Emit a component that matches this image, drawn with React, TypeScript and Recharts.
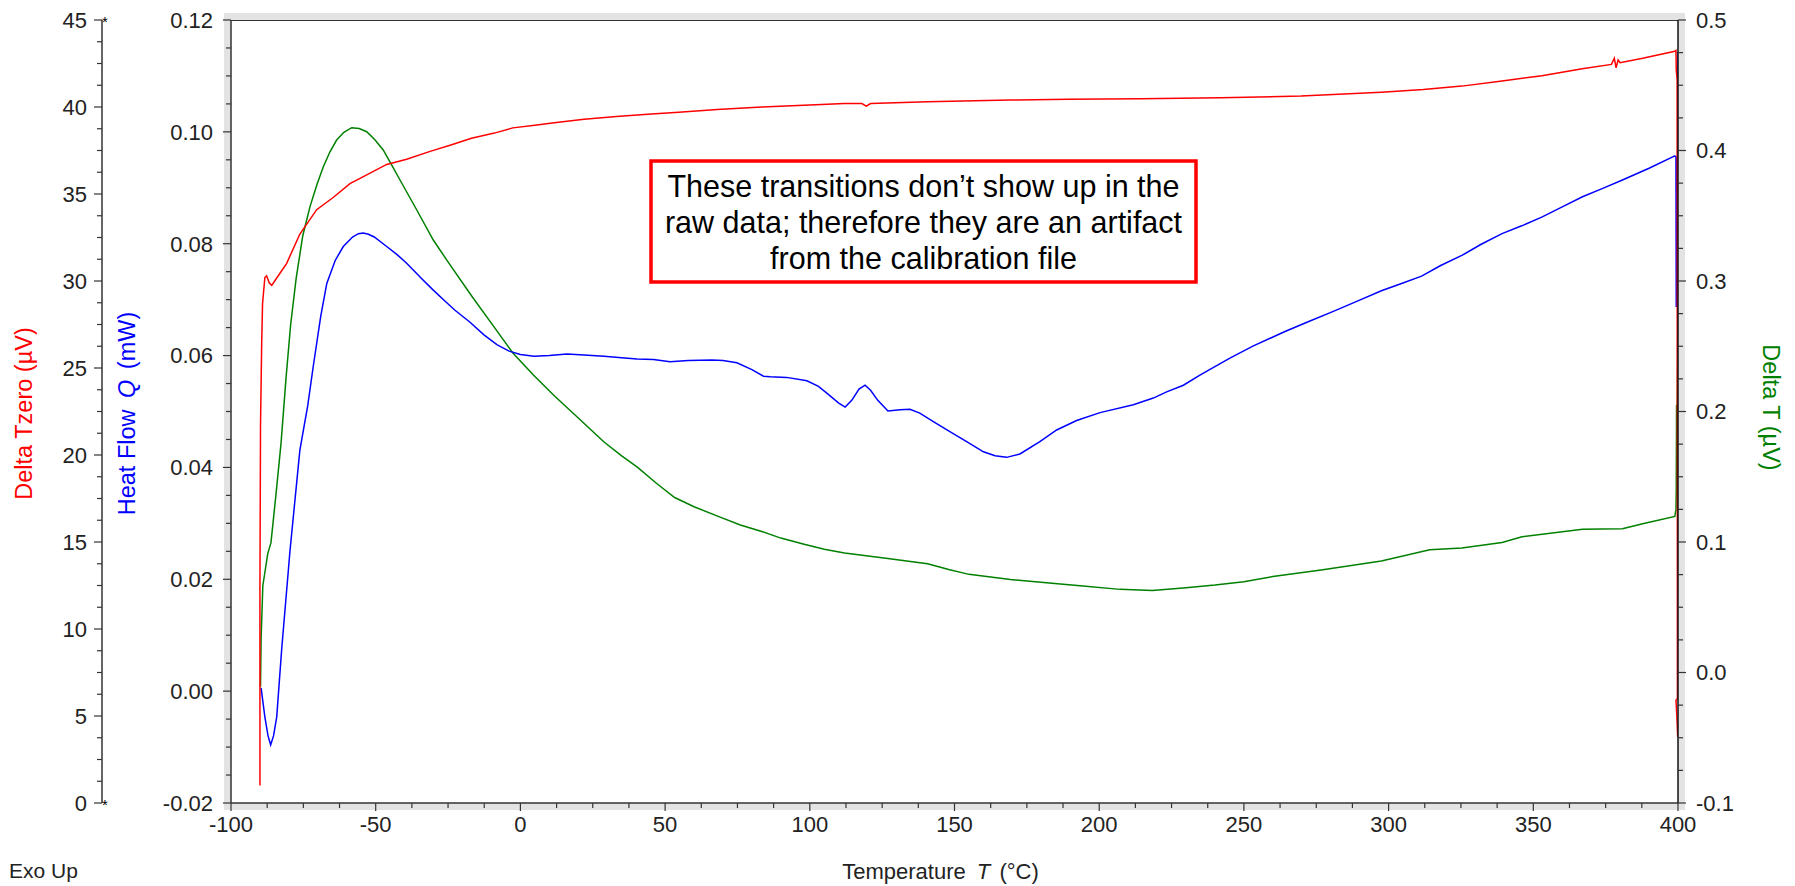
import React from "react";
import { LineChart, Line, XAxis, YAxis } from "recharts";

const FONT = '"Liberation Sans", Arial, Helvetica, sans-serif';
const AXIS = "#333333";
const TEXT = "#222222";

// layout
const WIDTH = 1795;
const HEIGHT = 886;
const MARGIN = { top: 20, right: 37, bottom: 0, left: 0 };
const TZERO_AXIS_W = 102;
const HF_AXIS_W = 129;
const DT_AXIS_W = 80;
const X_AXIS_H = 83;

const PLOT_L = MARGIN.left + TZERO_AXIS_W + HF_AXIS_W;
const PLOT_R = WIDTH - MARGIN.right - DT_AXIS_W;
const PLOT_T = MARGIN.top;
const PLOT_B = HEIGHT - MARGIN.bottom - X_AXIS_H;

// [temperature °C, heat flow mW]  (blue, left axis)
const heatFlow: [number, number][] = [
  [-89.6, 0.0006], [-88.3, -0.0046], [-87.2, -0.008], [-86.3, -0.0096], [-85.3, -0.008],
  [-84.2, -0.0046], [-82.5, 0.0074], [-79.6, 0.0252], [-76.2, 0.0431], [-73.5, 0.051],
  [-71.6, 0.058], [-69.0, 0.067], [-66.9, 0.0729], [-64.0, 0.077], [-61.2, 0.0795],
  [-58.0, 0.0812], [-56.0, 0.0818], [-54.3, 0.0819], [-52.5, 0.0817], [-50.5, 0.0812],
  [-46.2, 0.0795], [-42.5, 0.078], [-39.3, 0.0765],
  [-34.0, 0.0737], [-30.1, 0.0717], [-26.0, 0.0697], [-22.6, 0.0681], [-17.5, 0.066],
  [-12.6, 0.0637], [-8.0, 0.0619], [-3.9, 0.0608], [0, 0.0602], [4.7, 0.0599],
  [10, 0.06], [16.1, 0.0603], [22, 0.0601], [28.9, 0.0599], [35, 0.0596],
  [40.3, 0.0594], [46, 0.0593], [51.7, 0.0589], [58, 0.0591], [66.2, 0.0592],
  [70, 0.0591], [74.8, 0.0587], [80, 0.0575], [84, 0.0563], [86.3, 0.0562],
  [92, 0.0561], [99, 0.0555], [103, 0.0545], [106.3, 0.0531], [110, 0.0515],
  [112.2, 0.0508], [114.5, 0.052], [117, 0.054], [119.1, 0.0547], [121, 0.0538],
  [123.5, 0.052], [127, 0.0501], [131.2, 0.0503], [134.6, 0.0504], [138, 0.0497],
  [142.7, 0.0482], [148.4, 0.0464], [154.2, 0.0446], [160, 0.0428], [164, 0.0421],
  [168, 0.0418], [172.6, 0.0424], [179.5, 0.0446], [185.3, 0.0467], [192.2, 0.0484],
  [200.3, 0.0498], [211.8, 0.0512], [218.7, 0.0524], [223.3, 0.0535], [229.1, 0.0547],
  [234.8, 0.0565], [245, 0.0595], [253.1, 0.0617], [264.2, 0.0643], [272, 0.066],
  [280.9, 0.0679], [289, 0.0697], [297.5, 0.0716], [304, 0.0728], [311.4, 0.0742],
  [318, 0.0761], [325.3, 0.0779], [332, 0.0799], [339.2, 0.0818], [346, 0.0832],
  [353.1, 0.0848], [360, 0.0866], [367, 0.0884], [374, 0.0899], [380.8, 0.0914],
  [390, 0.0935], [398.9, 0.0957], [399.3, 0.0955], [399.4, 0.0687], [399.6, 0.094],
  [400, 0.0965], [400, 0.1143],
];

// [temperature °C, Delta Tzero µV]  (red, far-left axis)
const deltaTzero: [number, number][] = [
  [-90.0, 1.0], [-90.0, 12.3], [-89.8, 21.7], [-89.4, 26.4], [-89.1, 28.7],
  [-88.3, 30.2], [-87.7, 30.3], [-86.8, 29.9], [-85.9, 29.75], [-84.5, 30.1],
  [-80.8, 31.0], [-76.2, 32.7], [-70.4, 34.1], [-64.7, 34.8], [-58.9, 35.6],
  [-53.1, 36.1], [-46.2, 36.7], [-39.3, 37.0], [-31.2, 37.45], [-24.3, 37.8],
  [-16.9, 38.2], [-9, 38.5], [-2.6, 38.8], [5, 38.95], [11.7, 39.1],
  [22, 39.3], [33.2, 39.45], [44, 39.58], [54.7, 39.7], [68, 39.85],
  [83.4, 40.0], [98, 40.1], [112, 40.2], [118, 40.2], [119.5, 40.05],
  [121, 40.2], [140.7, 40.3], [169.3, 40.4], [189.4, 40.45], [214.2, 40.47],
  [242, 40.53], [269.7, 40.63], [297.5, 40.85], [312, 41.0], [325.3, 41.2],
  [339.2, 41.5], [353, 41.8], [366.9, 42.2], [377, 42.45], [378, 42.8],
  [378.6, 42.25], [379.3, 42.7], [380, 42.55], [387.8, 42.8], [398.9, 43.2],
  [399.3, 43.25], [399.4, 42.1], [399.7, 41.6], [399.8, 6.0], [399.3, 5.9],
  [399.6, 5.0], [399.9, 3.8],
];

// [temperature °C, Delta T µV]  (green, right axis)
const deltaT: [number, number][] = [
  [-89.8, -0.011], [-89.6, 0.026], [-89.0, 0.0665], [-87.3, 0.0911], [-86.2, 0.0993],
  [-84.4, 0.1376], [-82.7, 0.176], [-81.0, 0.2252], [-79.4, 0.2663], [-77.5, 0.3018],
  [-75.2, 0.3347], [-72.7, 0.357], [-70.3, 0.374], [-68.1, 0.3876], [-65.8, 0.399],
  [-63.5, 0.408], [-61, 0.414], [-58.3, 0.4175], [-55.7, 0.4168],
  [-53.1, 0.4144], [-50.2, 0.408], [-47.4, 0.4004], [-44.5, 0.389], [-41.6, 0.3774],
  [-35.8, 0.3544], [-30.1, 0.3314],
  [-24.3, 0.3123], [-16.9, 0.2887], [-9.5, 0.266], [-2.6, 0.2449], [4.5, 0.228],
  [11.7, 0.2121], [20, 0.195], [28.9, 0.1766], [35, 0.166], [40.4, 0.1574],
  [47, 0.145], [53.3, 0.1341], [60, 0.127], [69, 0.1191], [76, 0.113],
  [83.4, 0.1081], [90, 0.103], [97.7, 0.0985], [105, 0.0945], [112, 0.0916],
  [126.3, 0.0876], [140.7, 0.0834], [148, 0.079], [155, 0.0752], [169.3, 0.0712],
  [183.7, 0.0684], [193.4, 0.0665], [207.2, 0.0637], [218.4, 0.0628], [230, 0.065],
  [240, 0.067], [250, 0.0695], [260, 0.0735], [276.7, 0.0785], [297.5, 0.0855],
  [314.2, 0.094], [325.3, 0.0954], [339.2, 0.0997], [346.1, 0.104], [367, 0.1097],
  [380.8, 0.1102], [387.8, 0.114], [398.9, 0.1196], [399.3, 0.125], [399.4, 0.14],
  [399.5, 0.205], [399.6, 0.14], [399.9, 0.255],
];

// major tick values
const tempTicks = [-100, -50, 0, 50, 100, 150, 200, 250, 300, 350, 400];
const heatFlowTicks = [-0.02, 0, 0.02, 0.04, 0.06, 0.08, 0.1, 0.12];
const tzeroTicks = [0, 5, 10, 15, 20, 25, 30, 35, 40, 45];
const deltaTTicks = [-0.1, 0, 0.1, 0.2, 0.3, 0.4, 0.5];

const note = [
  "These transitions don\u2019t show up in the",
  "raw data; therefore they are an artifact",
  "from the calibration file",
];

// add 3 minor ticks between each pair of majors
function withMinors(majors: number[]) {
  const out: number[] = [];
  for (let i = 0; i < majors.length - 1; i++) {
    const step = (majors[i + 1] - majors[i]) / 4;
    for (let k = 0; k < 4; k++) out.push(Math.round((majors[i] + k * step) * 1e6) / 1e6);
  }
  out.push(majors[majors.length - 1]);
  return out;
}

const toRows = (pts: [number, number][]) => pts.map(([t, v]) => ({ t, v }));

const isMajor = (majors: number[], v: number) => majors.some((m) => Math.abs(m - v) < 1e-9);

const labelStyle = { fontFamily: FONT, fontSize: 22, fill: TEXT };

function makeTick(
  side: "left" | "right" | "bottom",
  majors: number[],
  fmt: (v: number) => string,
  gap: number,
  stars = false
) {
  return (props: any) => {
    const { x, y, payload } = props;
    const v = payload.value;
    const major = isMajor(majors, v);
    const len = major ? 8 : 5;
    if (side === "bottom") {
      return (
        <g>
          <line x1={x} x2={x} y1={y} y2={y + len} stroke={AXIS} strokeWidth={1.2} />
          {major && (
            <text x={x} y={y + gap} textAnchor="middle" style={labelStyle}>
              {fmt(v)}
            </text>
          )}
        </g>
      );
    }
    const dir = side === "left" ? -1 : 1;
    const isEnd = v === majors[0] || v === majors[majors.length - 1];
    return (
      <g>
        <line x1={x} x2={x + dir * len} y1={y} y2={y} stroke={AXIS} strokeWidth={1.2} />
        {major && (
          <text
            x={x + dir * gap}
            y={y}
            dy="0.36em"
            textAnchor={side === "left" ? "end" : "start"}
            style={labelStyle}
          >
            {fmt(v)}
          </text>
        )}
        {stars && isEnd && (
          <text x={x + 3} y={y + 7} textAnchor="middle" style={{ fontFamily: FONT, fontSize: 15, fill: "#000" }}>
            *
          </text>
        )}
      </g>
    );
  };
}

export default function App() {
  const title = { fontFamily: FONT, fontSize: 23.5 };
  const midY = (PLOT_T + PLOT_B) / 2;
  return (
    <div style={{ position: "absolute", left: 0, top: 0, width: WIDTH, height: HEIGHT, background: "#fff" }}>
      {/* frame shadow + plot background */}
      <div
        style={{
          position: "absolute",
          left: PLOT_L - 7,
          top: PLOT_T - 7,
          width: PLOT_R - PLOT_L + 14,
          height: PLOT_B - PLOT_T + 14,
          background: "#e3e3e3",
        }}
      />
      <div
        style={{
          position: "absolute",
          left: PLOT_L,
          top: PLOT_T,
          width: PLOT_R - PLOT_L,
          height: PLOT_B - PLOT_T,
          background: "#fff",
          borderTop: `1.5px solid ${AXIS}`,
          boxSizing: "border-box",
        }}
      />
      <div style={{ position: "absolute", left: 0, top: 0 }}>
        <LineChart width={WIDTH} height={HEIGHT} margin={MARGIN}>
          <XAxis
            type="number"
            dataKey="t"
            domain={[-100, 400]}
            allowDataOverflow
            ticks={withMinors(tempTicks)}
            interval={0}
            height={X_AXIS_H}
            tickSize={0}
            tickMargin={0}
            tickLine={false}
            axisLine={{ stroke: AXIS, strokeWidth: 1.5 }}
            tick={makeTick("bottom", tempTicks, (v) => String(v), 29)}
          />
          <YAxis
            yAxisId="hf"
            orientation="left"
            type="number"
            domain={[-0.02, 0.12]}
            allowDataOverflow
            ticks={withMinors(heatFlowTicks)}
            interval={0}
            width={HF_AXIS_W}
            tickSize={0}
            tickMargin={0}
            tickLine={false}
            axisLine={{ stroke: AXIS, strokeWidth: 1.5 }}
            tick={makeTick("left", heatFlowTicks, (v) => v.toFixed(2), 18)}
          />
          <YAxis
            yAxisId="tz"
            orientation="left"
            type="number"
            domain={[0, 45]}
            allowDataOverflow
            ticks={withMinors(tzeroTicks)}
            interval={0}
            width={TZERO_AXIS_W}
            tickSize={0}
            tickMargin={0}
            tickLine={false}
            axisLine={{ stroke: AXIS, strokeWidth: 1.5 }}
            tick={makeTick("left", tzeroTicks, (v) => String(v), 15, true)}
          />
          <YAxis
            yAxisId="dt"
            orientation="right"
            type="number"
            domain={[-0.1, 0.5]}
            allowDataOverflow
            ticks={withMinors(deltaTTicks)}
            interval={0}
            width={DT_AXIS_W}
            tickSize={0}
            tickMargin={0}
            tickLine={false}
            axisLine={{ stroke: "#111", strokeWidth: 1.5 }}
            tick={makeTick("right", deltaTTicks, (v) => v.toFixed(1), 18)}
          />
          <Line
            yAxisId="dt"
            data={toRows(deltaT)}
            dataKey="v"
            type="linear"
            stroke="#008000"
            strokeWidth={1.5}
            dot={false}
            activeDot={false}
            isAnimationActive={false}
          />
          <Line
            yAxisId="hf"
            data={toRows(heatFlow)}
            dataKey="v"
            type="linear"
            stroke="#0000ff"
            strokeWidth={1.5}
            dot={false}
            activeDot={false}
            isAnimationActive={false}
          />
          <Line
            yAxisId="tz"
            data={toRows(deltaTzero)}
            dataKey="v"
            type="linear"
            stroke="#ff0000"
            strokeWidth={1.5}
            dot={false}
            activeDot={false}
            isAnimationActive={false}
          />
        </LineChart>
      </div>
      {/* axis titles and annotation */}
      <svg
        width={WIDTH}
        height={HEIGHT}
        style={{ position: "absolute", left: 0, top: 0, pointerEvents: "none" }}
      >
        <text
          transform={`translate(${MARGIN.left + 24},${midY + 2}) rotate(-90)`}
          textAnchor="middle"
          dominantBaseline="central"
          style={{ ...title, fill: "#ff0000" }}
        >
          Delta Tzero (µV)
        </text>
        <text
          transform={`translate(${MARGIN.left + TZERO_AXIS_W + 25},${midY + 2}) rotate(-90)`}
          textAnchor="middle"
          dominantBaseline="central"
          style={{ ...title, fill: "#0000ff" }}
        >
          Heat Flow <tspan dx={5} fontStyle="italic">Q</tspan> <tspan dx={4}>(mW)</tspan>
        </text>
        <text
          transform={`translate(${PLOT_R + 93},${midY - 4}) rotate(90)`}
          textAnchor="middle"
          dominantBaseline="central"
          style={{ ...title, fill: "#008000" }}
        >
          Delta T (µV)
        </text>
        <text
          x={(PLOT_L + PLOT_R) / 2 - 14}
          y={PLOT_B + 76}
          textAnchor="middle"
          style={{ fontFamily: FONT, fontSize: 22, fill: TEXT }}
        >
          Temperature <tspan dx={5} fontStyle="italic">T</tspan> <tspan dx={3}>(°C)</tspan>
        </text>
        <text x={9} y={PLOT_B + 75} style={{ fontFamily: FONT, fontSize: 21, fill: TEXT }}>
          Exo Up
        </text>
        <rect x={651} y={161} width={545} height={121} fill="#fff" stroke="#ff0000" strokeWidth={3.5} />
        {note.map((line, i) => (
          <text
            key={i}
            x={923.5}
            y={197 + i * 36}
            textAnchor="middle"
            style={{ fontFamily: FONT, fontSize: 30.5, fill: "#000" }}
          >
            {line}
          </text>
        ))}
      </svg>
    </div>
  );
}
